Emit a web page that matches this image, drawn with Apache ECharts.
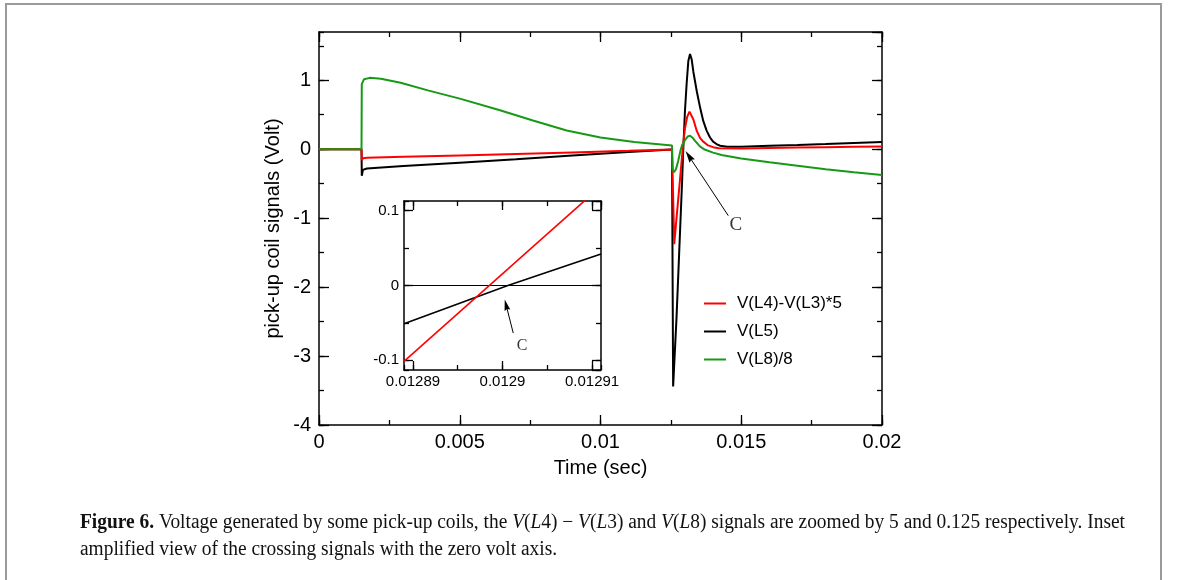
<!DOCTYPE html>
<html><head><meta charset="utf-8">
<script src="https://cdn.jsdelivr.net/npm/echarts@6/dist/echarts.min.js"></script>
<style>html,body{margin:0;padding:0;background:#fff}#c{width:1179px;height:580px}</style>
</head><body><div id="c"></div>
<script>
// ---------------- data ----------------
const seriesNames = ['V(L4)-V(L3)*5', 'V(L5)', 'V(L8)/8'];
const xTickLabels = ['0', '0.005', '0.01', '0.015', '0.02'];
const yTickLabels = ['-4', '-3', '-2', '-1', '0', '1'];

const timeBlack = [0, 0.00151, 0.00152, 0.00156, 0.0017, 0.003, 0.005, 0.007, 0.009, 0.011, 0.01254, 0.01258, 0.0127, 0.0128, 0.0129, 0.01294, 0.0130, 0.01306, 0.01312, 0.01318, 0.01324, 0.0133, 0.01342, 0.01354, 0.01365, 0.01377, 0.01389, 0.0140, 0.01412, 0.01425, 0.0145, 0.015, 0.016, 0.017, 0.018, 0.019, 0.02];
const valBlack  = [0, 0, -0.386, -0.30, -0.28, -0.245, -0.195, -0.145, -0.092, -0.04, -0.003, -3.44, -2.45, -1.45, -0.45, 0, 0.55, 0.95, 1.28, 1.38, 1.30, 1.12, 0.84, 0.6, 0.41, 0.27, 0.17, 0.11, 0.075, 0.05, 0.035, 0.035, 0.05, 0.062, 0.075, 0.09, 0.105];

const timeRed = [0, 0.00151, 0.00152, 0.00156, 0.0017, 0.003, 0.005, 0.007, 0.009, 0.011, 0.01254, 0.01262, 0.0127, 0.0128, 0.0129, 0.01295, 0.0130, 0.01308, 0.01316, 0.01322, 0.0133, 0.01342, 0.01354, 0.01365, 0.0138, 0.0140, 0.0142, 0.015, 0.016, 0.017, 0.018, 0.019, 0.02];
const valRed  = [0, 0, -0.16, -0.13, -0.125, -0.11, -0.09, -0.068, -0.046, -0.024, -0.005, -1.377, -1.0, -0.55, -0.09, 0.12, 0.3, 0.47, 0.545, 0.53, 0.43, 0.265, 0.16, 0.11, 0.06, 0.03, 0.015, 0.012, 0.018, 0.024, 0.03, 0.035, 0.04];

const timeGreen = [0, 0.00151, 0.00152, 0.0016, 0.0018, 0.0022, 0.0029, 0.0039, 0.005, 0.0064, 0.0076, 0.0088, 0.010, 0.0112, 0.01254, 0.01256, 0.01261, 0.01268, 0.01276, 0.01284, 0.0129, 0.0130, 0.0131, 0.01318, 0.01326, 0.01336, 0.01353, 0.0137, 0.0140, 0.0143, 0.015, 0.016, 0.017, 0.018, 0.019, 0.02];
const valGreen  = [0, 0, 0.944, 1.016, 1.035, 1.023, 0.965, 0.85, 0.734, 0.568, 0.416, 0.272, 0.17, 0.105, 0.055, -0.29, -0.335, -0.29, -0.17, -0.02, 0.06, 0.13, 0.185, 0.195, 0.17, 0.12, 0.04, -0.005, -0.05, -0.085, -0.135, -0.19, -0.24, -0.29, -0.335, -0.375];

// inset (zoom around the zero crossing)
const insetTimeRed = [0.012889, 0.012911];
const insetValRed  = [-0.1015, 0.1328];
const insetTimeBlack = [0.012889, 0.0129006, 0.012911];
const insetValBlack  = [-0.051, 0, 0.042];

// annotations (data coordinates)
const arrowMain = [[0.01454, -0.964], [0.01314, -0.10]];
const labelMain = [0.01481, -1.1];
const arrowInset = [[0.0129012, -0.0636], [0.0129004, -0.0260]];
const labelInset = [0.0129022, -0.08];

const captionLine1 = [['Figure 6.', 'b'], [' Voltage generated by some pick-up coils, the ', 'n'], ['V', 'i'], ['(', 'n'], ['L', 'i'], ['4) \u2212 ', 'n'], ['V', 'i'], ['(', 'n'], ['L', 'i'], ['3) and ', 'n'], ['V', 'i'], ['(', 'n'], ['L', 'i'], ['8) signals are zoomed by 5 and 0.125 respectively. Inset', 'n']];
const captionLine2 = [['amplified view of the crossing signals with the zero volt axis.', 'n']];

// ---------------- chart ----------------
const zip = (t, v) => t.map((x, i) => [x, v[i]]);
const SANS = "'Liberation Sans', Arial, sans-serif";
const SERIF = "'Liberation Serif', 'Times New Roman', serif";
const RED = '#ff0000', BLACK = '#000000', GREEN = '#169a16';
const tickStyle = {color: '#000', width: 1.3};
const frameLine = {show: true, onZero: false, lineStyle: {color: '#000', width: 1.5}};
const noLine = {show: false, onZero: false};

function ax(base, extra) { return Object.assign({type: 'value', splitLine: {show: false}, axisLabel: {show: false}}, base, extra); }
function ticks(len) { return {show: true, inside: true, length: len, lineStyle: tickStyle}; }

const mainX = {gridIndex: 0, min: 0, max: 0.02};
const mainY = {gridIndex: 0, min: -4, max: 1.7};
const insX = {gridIndex: 1, min: 0.012889, max: 0.012911};
const insY = {gridIndex: 1, min: -0.113, max: 0.113};

const xAxes = [
  ax(mainX, {position: 'bottom', interval: 0.005, axisLine: frameLine, axisTick: ticks(10),
    axisLabel: {show: true, fontSize: 20, color: '#000', fontFamily: SANS, margin: 7,
      formatter: (v) => { const i = Math.round(v / 0.005); return xTickLabels[i] !== undefined ? xTickLabels[i] : ''; }},
    name: 'Time (sec)', nameLocation: 'middle', nameGap: 33,
    nameTextStyle: {fontSize: 20, color: '#000', fontFamily: SANS}}),
  ax(mainX, {position: 'bottom', interval: 0.0025, axisLine: noLine, axisTick: ticks(5)}),
  ax(mainX, {position: 'top', interval: 0.005, axisLine: frameLine, axisTick: ticks(10)}),
  ax(mainX, {position: 'top', interval: 0.0025, axisLine: noLine, axisTick: ticks(5)}),
  ax(insX, {position: 'bottom', splitNumber: 2, axisLine: frameLine, axisTick: ticks(9),
    axisLabel: {show: true, fontSize: 15, color: '#000', fontFamily: SANS, margin: 4, showMinLabel: false, showMaxLabel: false}}),
  ax(insX, {position: 'bottom', splitNumber: 4, axisLine: noLine, axisTick: ticks(5)}),
  ax(insX, {position: 'top', splitNumber: 2, axisLine: frameLine, axisTick: ticks(9)}),
  ax(insX, {position: 'top', splitNumber: 4, axisLine: noLine, axisTick: ticks(5)})
];
const yAxes = [
  ax(mainY, {position: 'left', interval: 1, axisLine: frameLine, axisTick: ticks(10),
    axisLabel: {show: true, fontSize: 20, color: '#000', fontFamily: SANS, margin: 8, showMaxLabel: false,
      formatter: (v) => { const i = Math.round(v + 4); return (Math.abs(v - Math.round(v)) < 1e-9 && yTickLabels[i] !== undefined) ? yTickLabels[i] : ''; }},
    name: 'pick-up coil signals (Volt)', nameLocation: 'middle', nameGap: 36, nameRotate: 90,
    nameTextStyle: {fontSize: 20, color: '#000', fontFamily: SANS}}),
  ax(mainY, {position: 'left', interval: 0.5, axisLine: noLine, axisTick: ticks(5)}),
  ax(mainY, {position: 'right', interval: 1, axisLine: frameLine, axisTick: ticks(10)}),
  ax(mainY, {position: 'right', interval: 0.5, axisLine: noLine, axisTick: ticks(5)}),
  ax(insY, {position: 'left', splitNumber: 2, axisLine: frameLine, axisTick: ticks(9),
    axisLabel: {show: true, fontSize: 15, color: '#000', fontFamily: SANS, margin: 5, showMinLabel: false, showMaxLabel: false}}),
  ax(insY, {position: 'left', splitNumber: 4, axisLine: noLine, axisTick: ticks(5)}),
  ax(insY, {position: 'right', splitNumber: 2, axisLine: frameLine, axisTick: ticks(9)}),
  ax(insY, {position: 'right', splitNumber: 4, axisLine: noLine, axisTick: ticks(5)})
];

const ARROW = 'path://M0,0 M12,12 M6,0 L9.2,12 L6,10.5 L2.8,12 Z';
function lineSeries(name, data, color, xi, yi, w, z) {
  return {name, type: 'line', data, xAxisIndex: xi, yAxisIndex: yi, showSymbol: false, symbol: 'none',
    lineStyle: {color, width: w}, itemStyle: {color}, animation: false, silent: true, z, clip: true};
}

// caption rich text
const CAP_SIZE = 20;
const richStyles = {
  n: {fontFamily: SERIF, fontSize: CAP_SIZE, fontStyle: 'normal', fontWeight: 'normal', fill: '#111'},
  i: {fontFamily: SERIF, fontSize: CAP_SIZE, fontStyle: 'italic', fontWeight: 'normal', fill: '#111'},
  b: {fontFamily: SERIF, fontSize: CAP_SIZE, fontStyle: 'normal', fontWeight: 'bold', fill: '#111'}
};
function richText(parts) { return parts.map(([t, s]) => '{' + s + '|' + t + '}').join(''); }
function measure(parts) {
  const ctx = document.createElement('canvas').getContext('2d'); let w = 0;
  for (const [t, s] of parts) { const st = richStyles[s]; ctx.font = st.fontStyle + ' ' + st.fontWeight + ' ' + st.fontSize + 'px ' + st.fontFamily; w += ctx.measureText(t).width; }
  return w;
}
const capLeft = 80, capRight = 1125;
const capScale = (capRight - capLeft) / measure(captionLine1);

const chart = echarts.init(document.getElementById('c'), null, {renderer: 'canvas'});
chart.setOption({
  animation: false,
  backgroundColor: '#fff',
  grid: [
    {left: 319, top: 32, width: 563, height: 393, outerBoundsMode: 'none', containLabel: false},
    {left: 404, top: 201, width: 197, height: 169, outerBoundsMode: 'none', containLabel: false, show: true, backgroundColor: '#fff', borderWidth: 0}
  ],
  xAxis: xAxes,
  yAxis: yAxes,
  legend: {
    data: seriesNames.map(n => ({name: n, icon: 'rect'})),
    orient: 'vertical', left: 704, top: 295, padding: 0,
    itemWidth: 22, itemHeight: 2, itemGap: 11,
    textStyle: {fontSize: 17, color: '#000', fontFamily: SANS, lineHeight: 17, padding: [0, 0, 0, 6]},
    selectedMode: false
  },
  series: [
    lineSeries(seriesNames[1], zip(timeBlack, valBlack), BLACK, 0, 0, 2, 2),
    lineSeries(seriesNames[0], zip(timeRed, valRed), RED, 0, 0, 2, 3),
    lineSeries(seriesNames[2], zip(timeGreen, valGreen), GREEN, 0, 0, 2, 4),
    Object.assign(lineSeries('inset-black', zip(insetTimeBlack, insetValBlack), BLACK, 4, 4, 1.6, 5), {
      markLine: {silent: true, symbol: 'none', label: {show: false}, animation: false,
        lineStyle: {color: '#000', width: 1, type: 'solid'}, data: [{yAxis: 0}]}
    }),
    lineSeries('inset-red', zip(insetTimeRed, insetValRed), RED, 4, 4, 1.6, 6),
    {type: 'lines', coordinateSystem: 'cartesian2d', xAxisIndex: 0, yAxisIndex: 0, silent: true, animation: false, z: 7,
      symbol: ['none', ARROW], symbolSize: 12, lineStyle: {color: '#000', width: 1, opacity: 1}, data: [{coords: arrowMain}]},
    {type: 'lines', coordinateSystem: 'cartesian2d', xAxisIndex: 4, yAxisIndex: 4, silent: true, animation: false, z: 7,
      symbol: ['none', ARROW], symbolSize: 11, lineStyle: {color: '#000', width: 1, opacity: 1}, data: [{coords: arrowInset}]},
    {type: 'scatter', xAxisIndex: 0, yAxisIndex: 0, silent: true, animation: false, symbolSize: 1, itemStyle: {color: 'rgba(0,0,0,0)'},
      data: [labelMain], label: {show: true, position: 'inside', formatter: 'C', fontFamily: SERIF, fontSize: 19, color: '#000'}},
    {type: 'scatter', xAxisIndex: 4, yAxisIndex: 4, silent: true, animation: false, symbolSize: 1, itemStyle: {color: 'rgba(0,0,0,0)'},
      data: [labelInset], label: {show: true, position: 'inside', formatter: 'C', fontFamily: SERIF, fontSize: 16, color: '#000'}}
  ],
  graphic: [
    {type: 'rect', silent: true, shape: {x: 6, y: 4, width: 1155, height: 600}, style: {fill: 'none', stroke: '#9a9a9a', lineWidth: 2}},
    {type: 'text', silent: true, x: capLeft, y: 523, scaleX: capScale, originX: 0, originY: 0,
      style: {text: richText(captionLine1), rich: richStyles, verticalAlign: 'middle', align: 'left', fontFamily: SERIF, fontSize: CAP_SIZE}},
    {type: 'text', silent: true, x: capLeft, y: 550, scaleX: capScale, originX: 0, originY: 0,
      style: {text: richText(captionLine2), rich: richStyles, verticalAlign: 'middle', align: 'left', fontFamily: SERIF, fontSize: CAP_SIZE}}
  ]
});
</script>
</body></html>
